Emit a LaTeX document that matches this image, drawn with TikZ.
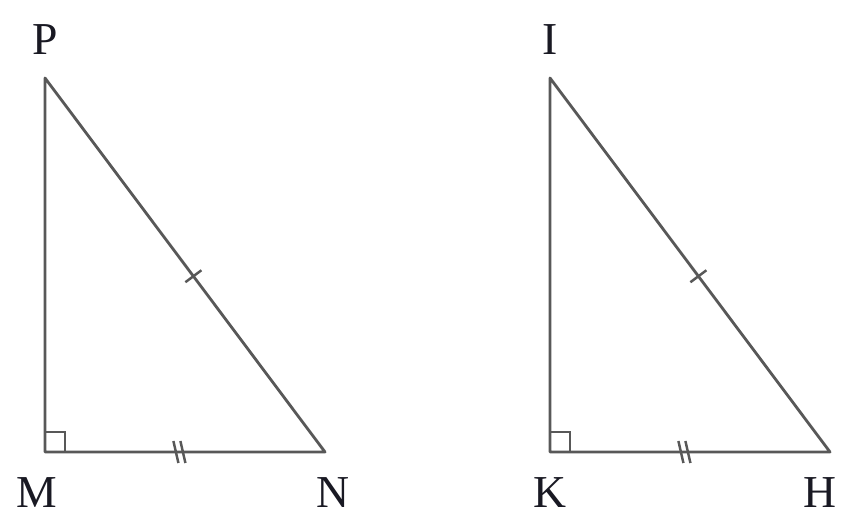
\documentclass[tikz,border=0pt]{standalone}
\usepackage{fontspec}
\setmainfont{Liberation Serif}
\usepackage{xcolor}
\usepackage{tikz}
\usetikzlibrary{calc}
\definecolor{edge}{RGB}{88,88,88}
\definecolor{lbl}{RGB}{25,25,35}

\begin{document}
\begin{tikzpicture}[
    x=0.02cm, y=-0.02cm,
    side/.style={draw=edge, line width=1.6pt, line join=round},
    mark1/.style={draw=edge, line width=1.4pt},
    vlabel/.style={font=\fontsize{26}{30}\selectfont, text=lbl, inner sep=0pt},
]
\useasboundingbox (0,0) rectangle (844,518);

% === LEFT TRIANGLE ===
\coordinate (P) at (45,78);
\coordinate (M) at (45,452);
\coordinate (N) at (325,452);
\draw[side] (P) -- (M) -- (N) -- cycle;
\draw[mark1] ($(M)+(0,-20)$) -| ($(M)+(20,0)$);

% === RIGHT TRIANGLE ===
\coordinate (I) at (550,78);
\coordinate (K) at (550,452);
\coordinate (H) at (830,452);
\draw[side] (I) -- (K) -- (H) -- cycle;
\draw[mark1] ($(K)+(0,-20)$) -| ($(K)+(20,0)$);

% === TICK MARKS ===
\draw[mark1] ($(P)!0.53!(N)!0.2cm!90:(N)$) -- ($(P)!0.53!(N)!0.2cm!-90:(N)$);
\draw[mark1] ($(I)!0.53!(H)!0.2cm!90:(H)$) -- ($(I)!0.53!(H)!0.2cm!-90:(H)$);
\coordinate (mn) at ($(M)!0.48!(N)$);
\coordinate (kh) at ($(K)!0.48!(H)$);
\foreach \c in {mn,kh} {
  \draw[mark1] ($(\c)+(-6,-11)$) -- ($(\c)+(-1,11)$);
  \draw[mark1] ($(\c)+(1,-11)$) -- ($(\c)+(6,11)$);
}

% === LABELS ===
\node[vlabel] (lP) at (45,40) {P};
\node[vlabel] (lM) at (37,493) {M};
\node[vlabel] (lN) at (333,493) {N};
\node[vlabel] (lI) at (550,40) {I};
\node[vlabel] (lK) at (550,493) {K};
\node[vlabel] (lH) at (820,493) {H};

\end{tikzpicture}
\end{document}
